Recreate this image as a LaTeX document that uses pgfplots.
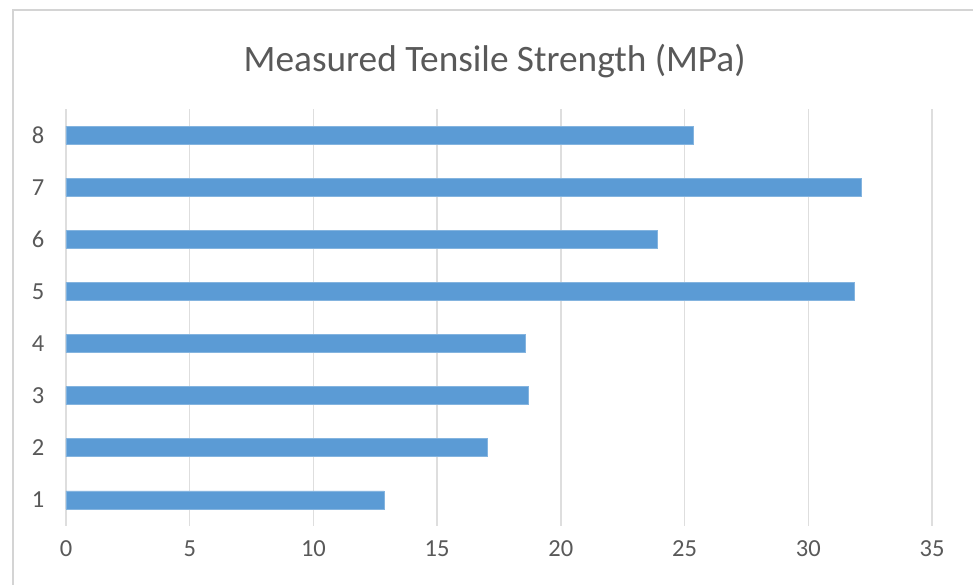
\documentclass[border=0pt]{standalone}
\usepackage{fontspec}
\setmainfont{Carlito}
\usepackage{pgfplots}
\pgfplotsset{compat=1.18}
\definecolor{barblue}{HTML}{5B9BD5}
\definecolor{gridgray}{HTML}{DEDEDE}
\definecolor{labelgray}{HTML}{595959}
\definecolor{framegray}{HTML}{D4D4D4}

\begin{document}
\begin{tikzpicture}[x=1pt,y=1pt]
\useasboundingbox (0,0) rectangle (973,585);
\clip (0,0) rectangle (973,585);
% chart area frame
\draw[framegray, line width=1.8pt] (13,-20) -- (13,575) -- (1000,575);
\begin{axis}[
  at={(66pt,59pt)}, anchor=south west, scale only axis,
  width=866pt, height=417pt,
  xbar, bar width=18pt,
  xmin=0, xmax=35, ymin=0.5, ymax=8.5,
  xtick={0,5,...,35}, ytick={1,...,8},
  xmajorgrids, grid style={gridgray, line width=1.5pt},
  axis line style={draw=none},
  major tick length=0pt,
  tick label style={font=\fontsize{24.5}{28}\selectfont, text=labelgray},
  xticklabel style={anchor=center, yshift=-23pt},
  yticklabel style={anchor=center, xshift=-28pt},
  /pgf/number format/assume math mode=true,
  title={Measured Tensile Strength (MPa)},
  title style={font=\fontsize{37.3}{44}\selectfont, text=labelgray,
    at={(axis description cs:0.495,1.101)}, anchor=center},
]
\addplot[fill=barblue, draw=barblue!75!white, line width=0.8pt]
  coordinates {(12.86,1) (17.05,2) (18.67,3) (18.56,4)
               (31.86,5) (23.90,6) (32.13,7) (25.35,8)};
\end{axis}
\end{tikzpicture}
\end{document}
